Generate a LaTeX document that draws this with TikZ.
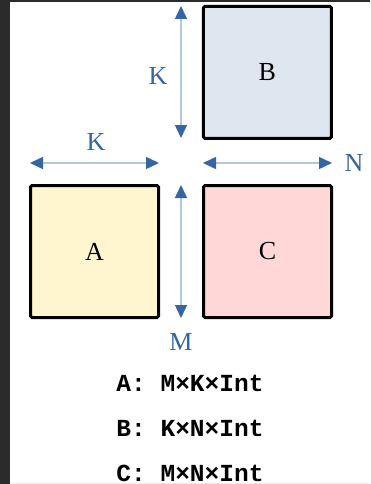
\documentclass[tikz,border=0pt]{standalone}
\usepackage{fontspec}
\setmainfont{Liberation Serif}
\newfontfamily\mymono{Liberation Mono}
\usetikzlibrary{arrows.meta}
\definecolor{darkbg}{HTML}{2B2B2B}
\definecolor{bfill}{HTML}{DEE6EF}
\definecolor{afill}{HTML}{FFF5CE}
\definecolor{cfill}{HTML}{FFD7D7}
\definecolor{dimline}{HTML}{B4C7DC}
\definecolor{dimblue}{HTML}{3465A4}
\tikzset{
  matbox/.style={draw=black, line width=3pt, rounded corners=1.5pt, minimum width=128pt, minimum height=132pt, inner sep=0pt, font=\fontsize{26}{30}\selectfont},
  dimarrow/.style={draw=dimline, line width=1.5pt, arrows={Triangle[length=13pt,width=12pt,color=dimblue]-Triangle[length=13pt,width=12pt,color=dimblue]}},
  dimlabel/.style={text=dimblue, inner sep=0pt, font=\fontsize{26}{30}\selectfont},
  typeline/.style={inner sep=0pt, font=\mymono\bfseries\fontsize{24.5}{28}\selectfont}
}
\begin{document}
\begin{tikzpicture}[x=1pt,y=-1pt]
\useasboundingbox (0,0) rectangle (370,484);
\fill[white] (0,0) rectangle (370,484);
\fill[darkbg] (0,0) rectangle (10,484);
\fill[darkbg] (0,0) rectangle (370,2);
\fill[black!7] (10,482.8) rectangle (370,484);

\node[matbox, fill=bfill] (B) at (267.3,72.4) {B};
\node[matbox, fill=afill] (A) at (94.5,251.5) {A};
\node[matbox, fill=cfill] (C) at (267.5,251.5) {C};

\coordinate (kv1) at (181,6);
\coordinate (kv2) at (181,138);
\coordinate (kh1) at (30,163);
\coordinate (kh2) at (159,163);
\coordinate (nh1) at (203,163);
\coordinate (nh2) at (332,163);
\coordinate (mv1) at (181,185);
\coordinate (mv2) at (181,318);

\draw[dimarrow] (kv1) -- (kv2);
\draw[dimarrow] (kh1) -- (kh2);
\draw[dimarrow] (nh1) -- (nh2);
\draw[dimarrow] (mv1) -- (mv2);

\node[dimlabel] (lk1) at (158,76) {K};
\node[dimlabel] (lk2) at (96,142) {K};
\node[dimlabel] (ln) at (354,163) {N};
\node[dimlabel] (lm) at (181,342) {M};

\node[typeline] (ta) at (190,383) {A: M×K×Int};
\node[typeline] (tb) at (190,428) {B: K×N×Int};
\node[typeline] (tc) at (190,473) {C: M×N×Int};
\end{tikzpicture}
\end{document}
